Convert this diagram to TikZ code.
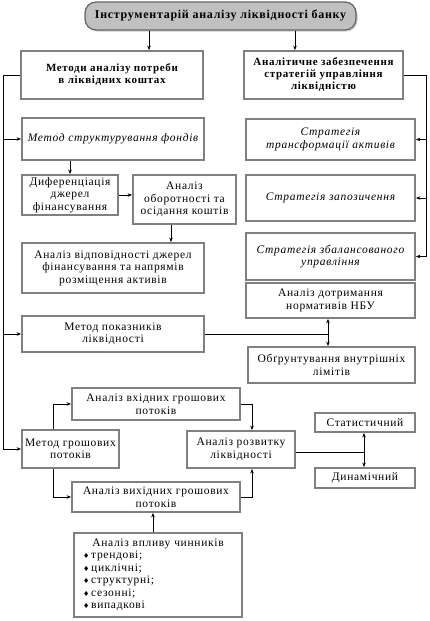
\documentclass[tikz,border=0pt]{standalone}
\usepackage{fontspec}
\setmainfont{Liberation Serif}[LetterSpace=6]
\newfontfamily\symf{DejaVu Sans}
\usetikzlibrary{arrows.meta,shadows}
\definecolor{boxgray}{RGB}{128,128,128}
\definecolor{topfill}{RGB}{192,192,192}
\definecolor{topdraw}{RGB}{100,100,100}
\begin{document}
\begin{tikzpicture}[x=1pt,y=-1pt,
  box/.style={draw=boxgray, line width=1.8pt, fill=white, align=center, inner sep=1pt,
    font=\fontsize{11.5}{12.5}\selectfont},
  bbox/.style={box, font=\fontsize{11}{12}\selectfont\bfseries},
  ibox/.style={box, font=\fontsize{11.5}{12.5}\selectfont\itshape},
  sz/.style 2 args={minimum width=#1pt, minimum height=#2pt},
  arr/.style={-{Stealth[length=4.5pt,width=3.5pt]}, line width=0.7pt},
  ln/.style={line width=0.7pt}]
\useasboundingbox (0,0) rectangle (429,621);

% title
\node[draw=topdraw, line width=1.2pt, fill=topfill, rounded corners=11pt,
  drop shadow={shadow xshift=1.5pt, shadow yshift=-1.5pt, fill=gray!80},
  sz={271}{28}, font=\fontsize{12}{13}\selectfont\bfseries] (top) at (220.5,16)
  {Інструментарій аналізу ліквідності банку};

% level 1
\node[bbox, sz={182}{48}] (m1) at (112,75) {Методи аналізу потреби\\в ліквідних коштах};
\node[bbox, sz={159}{48}] (m2) at (323.5,75) {Аналітичне забезпечення\\стратегій управління\\ліквідністю};

% left column
\node[ibox, sz={182}{42}] (fond) at (113,139) {Метод структурування фондів};
\node[box, sz={96}{40}] (dif) at (70,195) {Диференціація\\джерел\\фінансування};
\node[box, sz={103}{49}] (obor) at (184.5,199.5) {Аналіз\\оборотності та\\осідання коштів};
\node[box, sz={182}{50}] (vidp) at (113,268) {Аналіз відповідності джерел\\фінансування та напрямів\\розміщення активів};
\node[box, sz={182}{36}] (pok) at (113,334) {Метод показників\\ліквідності};

% right column
\node[ibox, sz={169}{41}] (s1) at (330.5,139.5) {Стратегія\\трансформації активів};
\node[ibox, sz={169}{46}] (s2) at (330.5,198) {Стратегія запозичення};
\node[ibox, sz={169}{47}] (s3) at (330.5,256.5) {Стратегія збалансованого\\управління};
\node[box, sz={169}{35}] (nbu) at (330.5,300.5) {Аналіз дотримання\\нормативів НБУ};
\node[box, sz={167}{36}] (lim) at (331.5,365) {Обґрунтування внутрішніх\\лімітів};

% cash flow part
\node[box, sz={168}{32}] (vkh) at (156,404) {Аналіз вхідних грошових\\потоків};
\node[box, sz={97}{38}] (grosh) at (70.5,449) {Метод грошових\\потоків};
\node[box, sz={108}{37}] (rozv) at (241,449.5) {Аналіз розвитку\\ліквідності};
\node[box, sz={168}{30}] (vykh) at (156,497) {Аналіз вихідних грошових\\потоків};
\node[box, sz={100}{19}] (stat) at (365,422.5) {Статистичний};
\node[box, sz={100}{20}] (dyn) at (365,478) {Динамічний};
\node[box, sz={168}{84}, align=left, text width=150pt] (vpl) at (158,575)
  {\makebox[150pt][c]{Аналіз впливу чинників}\\
   {\symf\scriptsize ♦}\,трендові;\\
   {\symf\scriptsize ♦}\,циклічні;\\
   {\symf\scriptsize ♦}\,структурні;\\
   {\symf\scriptsize ♦}\,сезонні;\\
   {\symf\scriptsize ♦}\,випадкові};

% connectors
\draw[arr] (top.south -| 149,0) -- (m1.north -| 149,0);
\draw[arr] (top.south -| 295,0) -- (m2.north -| 295,0);

\coordinate (L) at (3,75);
\draw[arr] (m1.west) -- (L) |- (grosh.west);
\draw[arr] (L |- fond.west) -- (fond.west);
\draw[arr] (L |- pok.west) -- (pok.west);

\coordinate (R) at (426,75);
\draw[arr] (m2.east) -- (R) |- (s3.east);
\draw[arr] (R |- s1.east) -- (s1.east);
\draw[arr] (R |- s2.east) -- (s2.east);

\draw[arr] (fond.south -| dif.north) -- (dif.north);
\draw[arr] (dif.east) -- (dif.east -| obor.west);
\draw[arr] (obor.south -| 171,0) -- (vidp.north -| 171,0);

\coordinate (P) at (328,334);
\draw[ln] (pok.east) -- (P);
\draw[arr] (P) -- (nbu.south -| P);
\draw[arr] (P) -- (lim.north -| P);

\coordinate (G) at (53,0);
\draw[arr] (grosh.north -| G) |- (vkh.west);
\draw[arr] (grosh.south -| G) |- (vykh.west);
\coordinate (V) at (252,0);
\draw[arr] (vkh.east) -| (rozv.north -| V);
\draw[arr] (vykh.east) -| (rozv.south -| V);

\coordinate (S) at (364,452);
\draw[ln] (rozv.east |- S) -- (S);
\draw[arr] (S) -- (stat.south -| S);
\draw[arr] (S) -- (dyn.north -| S);

\draw[arr] (vpl.north -| 153,0) -- (vykh.south -| 153,0);
\end{tikzpicture}
\end{document}
